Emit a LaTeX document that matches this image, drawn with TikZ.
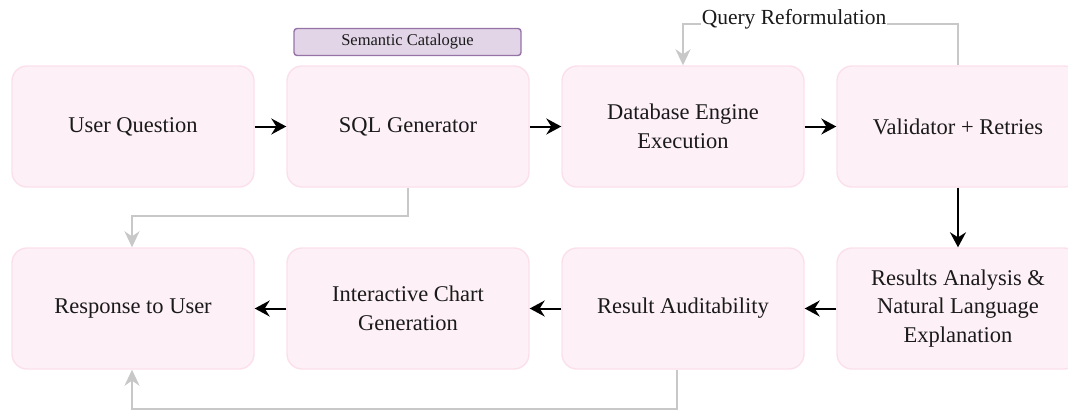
\documentclass[tikz,border=0pt]{standalone}
\usepackage{fontspec}
\setmainfont{Liberation Serif}
\usetikzlibrary{arrows.meta}
\definecolor{boxfill}{HTML}{FDF0F6}
\definecolor{boxline}{HTML}{FBE0EC}
\definecolor{catfill}{HTML}{E1D5E7}
\definecolor{catline}{HTML}{9673A6}
\definecolor{fb}{HTML}{C8C8C8}
\definecolor{txt}{HTML}{1A1A1A}
\tikzset{
  stepbox/.style={draw=boxline, fill=boxfill, line width=1.4pt, rounded corners=15pt,
    minimum width=242pt, minimum height=121pt, align=center, text=txt,
    font=\fontsize{22.5}{28.5}\selectfont, inner sep=0pt},
  catbox/.style={draw=catline, fill=catfill, line width=1.4pt, rounded corners=3pt,
    minimum width=227pt, minimum height=27pt, text=txt, font=\fontsize{16.5}{18}\selectfont, inner sep=0pt},
  flow/.style={line width=2pt, -{Stealth[length=15pt,width=16pt,inset=5pt]}, black},
  fback/.style={line width=2pt, fb, -{Stealth[length=16pt,width=15pt,inset=5pt]}},
  lbl/.style={fill=white, text=txt, font=\fontsize{21.5}{24}\selectfont, inner sep=1pt}
}
\begin{document}
\begin{tikzpicture}[x=1pt,y=-1pt]
\useasboundingbox (0,0) rectangle (1068,410);
\node[stepbox] (u) at (133,126.5) {User Question};
\node[stepbox] (s) at (408,126.5) {SQL Generator};
\node[stepbox] (d) at (683,126.5) {Database Engine\\Execution};
\node[stepbox] (v) at (958,126.5) {Validator + Retries};
\node[stepbox] (ra) at (958,308.5) {Results Analysis \&\\Natural Language\\Explanation};
\node[stepbox] (a) at (683,308.5) {Result Auditability};
\node[stepbox] (c) at (408,308.5) {Interactive Chart\\Generation};
\node[stepbox] (r) at (133,308.5) {Response to User};
\node[catbox] (cat) at (407.5,42) {Semantic Catalogue};
\draw[flow] (u) -- (s);
\draw[flow] (s) -- (d);
\draw[flow] (d) -- (v);
\draw[flow] (v) -- (ra);
\draw[flow] (ra) -- (a);
\draw[flow] (a) -- (c);
\draw[flow] (c) -- (r);
\draw[fback] (v.north) -- ++(0,-41) -| (d.north);
\node[lbl] (q) at (794,19) {Query Reformulation};
\draw[fback] (s.south) -- ++(0,28) -| ([xshift=-1pt]r.north);
\draw[fback] ([xshift=-6pt]a.south) -- ++(0,39) -| ([xshift=-1pt]r.south);
\end{tikzpicture}
\end{document}
